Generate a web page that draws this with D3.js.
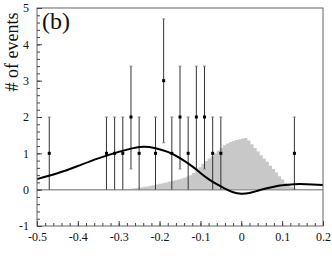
<!DOCTYPE html>
<html>
<head>
  <meta charset="utf-8">
  <script src="https://d3js.org/d3.v7.min.js"></script>
  <style>
    body { margin: 0; background: #fff; }
    text { font-family: "Liberation Serif", "DejaVu Serif", serif; fill: #111; }
  </style>
</head>
<body>
  <div id="chart"></div>
  <script>
    // observed events: position, count, asymmetric error range
    var evX  = [-0.47, -0.33, -0.31, -0.29, -0.27, -0.25, -0.21, -0.19, -0.17, -0.15, -0.13, -0.11, -0.09, -0.07, -0.05, 0.13];
    var evN  = [1, 1, 1, 1, 2, 1, 1, 3, 1, 2, 1, 2, 2, 1, 1, 1];
    var evLo = [0, 0, 0, 0, 0.57, 0, 0, 1.29, 0, 0.57, 0, 0.57, 0.57, 0, 0, 0];
    var evHi = [2, 2, 2, 2, 3.4, 2, 2, 4.7, 2, 3.4, 2, 3.4, 3.4, 2, 2, 2];

    // gray histogram (expected signal shape)
    var histStart = -0.3;
    var histStep = 0.0075;
    var histVals = [0.01, 0.01, 0.02, 0.02, 0.03, 0.04, 0.05, 0.06, 0.08, 0.09,
                    0.11, 0.12, 0.14, 0.16, 0.18, 0.20, 0.22, 0.24, 0.26, 0.28,
                    0.30, 0.33, 0.36, 0.40, 0.46, 0.53, 0.62, 0.71, 0.79, 0.86,
                    0.92, 1.00, 1.08, 1.15, 1.22, 1.27, 1.31, 1.34, 1.37, 1.39,
                    1.41, 1.42, 1.35, 1.25, 1.15, 1.05, 0.95, 0.86, 0.77, 0.66,
                    0.57, 0.47, 0.37, 0.28, 0.19, 0.12, 0.07, 0.04, 0.02];

    // fitted curve
    var curveX = [-0.5, -0.45, -0.4, -0.35, -0.3, -0.27, -0.24, -0.21, -0.18, -0.15, -0.12, -0.1, -0.08,
                  -0.06, -0.04, -0.02, 0, 0.02, 0.04, 0.06, 0.08, 0.1, 0.13, 0.16, 0.2];
    var curveY = [0.29, 0.45, 0.65, 0.86, 1.04, 1.13, 1.18, 1.14, 1.04, 0.87, 0.64, 0.46, 0.29,
                  0.15, 0.03, -0.07, -0.11, -0.09, -0.03, 0.03, 0.08, 0.12, 0.15, 0.15, 0.13];

    var xMajor = [-0.5, -0.4, -0.3, -0.2, -0.1, 0, 0.1, 0.2];
    var xLabels = ["-0.5", "-0.4", "-0.3", "-0.2", "-0.1", "0", "0.1", "0.2"];
    var yMajor = [-1, 0, 1, 2, 3, 4, 5];
    var yLabels = ["-1", "0", "1", "2", "3", "4", "5"];

    var width = 332, height = 269;
    var padL = 37, padR = 323, padT = 8, padB = 226;

    var svg = d3.select("#chart").append("svg")
      .attr("width", width)
      .attr("height", height);

    var x = d3.scaleLinear().domain([-0.5, 0.2]).range([padL, padR]);
    var y = d3.scaleLinear().domain([-1, 5]).range([padB, padT]);

    // histogram as one stepped area
    var histPts = histVals.map(function(d, i) { return [histStart + i * histStep, d]; });
    histPts.push([histStart + histVals.length * histStep, 0]);
    var area = d3.area()
      .x(function(d) { return x(d[0]); })
      .y0(y(0))
      .y1(function(d) { return y(d[1]); })
      .curve(d3.curveStepAfter);
    svg.append("path")
      .datum(histPts)
      .attr("d", area)
      .attr("fill", "#c8c8c8");

    // zero line
    svg.append("line")
      .attr("x1", x(-0.5)).attr("x2", x(0.2))
      .attr("y1", y(0)).attr("y2", y(0))
      .attr("stroke", "#9a9a9a").attr("stroke-width", 1.5);

    // error bars
    var ev = evX.map(function(d, i) { return {x: d, n: evN[i], lo: evLo[i], hi: evHi[i]}; });
    var eg = svg.append("g");
    eg.selectAll("line.bar").data(ev).enter().append("line")
      .attr("x1", function(d) { return x(d.x); }).attr("x2", function(d) { return x(d.x); })
      .attr("y1", function(d) { return y(d.lo); }).attr("y2", function(d) { return y(d.hi); })
      .attr("stroke", "#333").attr("stroke-width", 1);
    eg.selectAll("line.top").data(ev).enter().append("line")
      .attr("x1", function(d) { return x(d.x) - 1.5; }).attr("x2", function(d) { return x(d.x) + 1.5; })
      .attr("y1", function(d) { return y(d.hi); }).attr("y2", function(d) { return y(d.hi); })
      .attr("stroke", "#888").attr("stroke-width", 1);
    eg.selectAll("line.bot").data(ev.filter(function(d) { return d.lo > 0; })).enter().append("line")
      .attr("x1", function(d) { return x(d.x) - 1.5; }).attr("x2", function(d) { return x(d.x) + 1.5; })
      .attr("y1", function(d) { return y(d.lo); }).attr("y2", function(d) { return y(d.lo); })
      .attr("stroke", "#888").attr("stroke-width", 1);
    eg.selectAll("rect").data(ev).enter().append("rect")
      .attr("x", function(d) { return x(d.x) - 1.5; })
      .attr("y", function(d) { return y(d.n) - 1.5; })
      .attr("width", 3).attr("height", 3)
      .attr("fill", "#000");

    // curve
    var line = d3.line()
      .x(function(d, i) { return x(curveX[i]); })
      .y(function(d, i) { return y(curveY[i]); })
      .curve(d3.curveNatural);
    svg.append("path")
      .datum(curveX)
      .attr("d", line)
      .attr("fill", "none")
      .attr("stroke", "#000")
      .attr("stroke-width", 2);

    // frame
    svg.append("rect")
      .attr("x", padL).attr("y", padT)
      .attr("width", padR - padL).attr("height", padB - padT)
      .attr("fill", "none").attr("stroke", "#666").attr("stroke-width", 1);

    // axes, ticks pointing inward
    var yMinor = d3.range(-1, 5.001, 0.2);
    svg.append("g").attr("transform", "translate(" + padL + ",0)")
      .call(d3.axisLeft(y).tickValues(yMinor).tickSize(-3).tickFormat(""))
      .call(function(g) { g.select(".domain").remove(); });
    svg.append("g").attr("transform", "translate(" + padL + ",0)")
      .call(d3.axisLeft(y).tickValues(yMajor).tickSize(-5).tickPadding(8)
        .tickFormat(function(d, i) { return yLabels[i]; }))
      .call(function(g) {
        g.select(".domain").remove();
        g.selectAll("text").style("font-size", "12px").style("font-family", "Liberation Serif");
      });

    var xMinor = d3.range(-0.5, 0.2001, 0.02);
    svg.append("g").attr("transform", "translate(0," + padB + ")")
      .call(d3.axisBottom(x).tickValues(xMinor).tickSize(-3).tickFormat(""))
      .call(function(g) { g.select(".domain").remove(); });
    svg.append("g").attr("transform", "translate(0," + padB + ")")
      .call(d3.axisBottom(x).tickValues(xMajor).tickSize(-5).tickPadding(6)
        .tickFormat(function(d, i) { return xLabels[i]; }))
      .call(function(g) {
        g.select(".domain").remove();
        g.selectAll("text").style("font-size", "12px").style("font-family", "Liberation Serif");
      });
    svg.selectAll(".tick line").attr("stroke", "#444");

    // labels
    svg.append("text")
      .attr("transform", "translate(18,52) rotate(-90)")
      .attr("text-anchor", "middle")
      .style("font-size", "18px")
      .text("# of events");

    svg.append("text")
      .attr("x", 42).attr("y", 29)
      .style("font-size", "24px")
      .text("(b)");
  </script>
</body>
</html>
